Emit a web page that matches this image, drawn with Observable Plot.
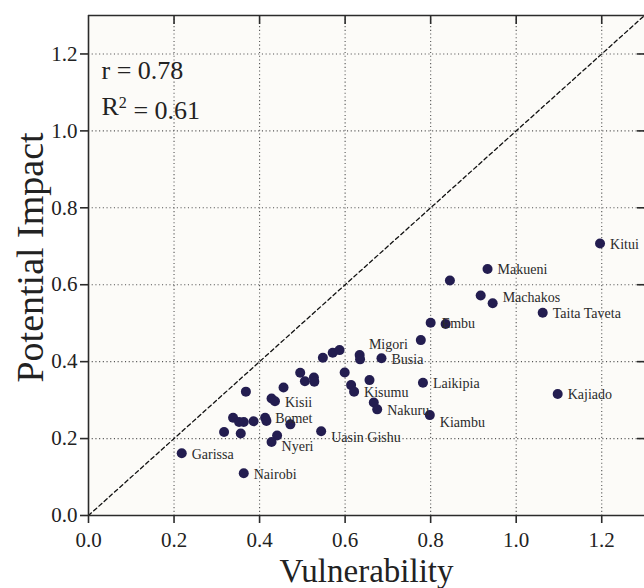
<!DOCTYPE html>
<html>
<head>
<meta charset="utf-8">
<script src="https://cdn.jsdelivr.net/npm/d3@7"></script>
<script src="https://cdn.jsdelivr.net/npm/@observablehq/plot@0.6"></script>
<style>
  html, body { margin: 0; padding: 0; background: #ffffff; }
  #chart svg { display: block; }
</style>
</head>
<body>
<div id="chart"></div>
<script>
// ---- data ----
const counties = [
  "Kitui", "Makueni", "", "", "Machakos", "Taita Taveta", "Kajiado", "Embu", "", "Migori",
  "Busia", "Laikipia", "Kiambu", "", "", "", "", "", "", "",
  "", "Kisumu", "", "Nakuru", "Uasin Gishu", "", "", "", "", "",
  "", "", "Kisii", "", "Bomet", "", "", "", "", "",
  "", "", "", "Nyeri", "Garissa", "Nairobi"
];
const vulnerability = [
  1.196, 0.933, 0.845, 0.917, 0.945, 1.062, 1.097, 0.800, 0.835, 0.777,
  0.685, 0.782, 0.798, 0.634, 0.635, 0.548, 0.571, 0.587, 0.599, 0.657,
  0.614, 0.621, 0.667, 0.675, 0.544, 0.495, 0.506, 0.527, 0.528, 0.456,
  0.368, 0.428, 0.436, 0.472, 0.413, 0.416, 0.338, 0.352, 0.363, 0.386,
  0.317, 0.356, 0.441, 0.428, 0.218, 0.363
];
const potentialImpact = [
  0.707, 0.641, 0.611, 0.572, 0.552, 0.527, 0.316, 0.501, 0.498, 0.456,
  0.409, 0.345, 0.261, 0.417, 0.406, 0.410, 0.423, 0.430, 0.372, 0.352,
  0.339, 0.322, 0.294, 0.276, 0.219, 0.371, 0.349, 0.359, 0.348, 0.333,
  0.322, 0.304, 0.297, 0.237, 0.254, 0.246, 0.254, 0.243, 0.243, 0.245,
  0.217, 0.213, 0.208, 0.191, 0.162, 0.110
];
const xTicks = [0, 0.2, 0.4, 0.6, 0.8, 1.0, 1.2];
const yTicks = [0, 0.2, 0.4, 0.6, 0.8, 1.0, 1.2];
const gridTicks = [0.2, 0.4, 0.6, 0.8, 1.0, 1.2];
const axisMax = 1.3;
const oneToOne = [{v: 0, i: 0}, {v: axisMax, i: axisMax}];
const statsText = ["r = 0.78", "R2 = 0.61"];
const xTitle = "Vulnerability";
const yTitle = "Potential Impact";

// ---- build table ----
const points = counties.map((name, k) => ({name, v: vulnerability[k], i: potentialImpact[k]}));

// label placement (style only)
const labelPlacement = {
  "Machakos": {dx: 10, dy: -6, anchor: "start"},
  "Kiambu": {dx: 10, dy: 7, anchor: "start"},
  "Uasin Gishu": {dx: 10, dy: 6, anchor: "start"},
  "Nyeri": {dx: 10, dy: 4, anchor: "start"},
  "Migori": {dx: -13, dy: 4, anchor: "end"},
  "Embu": {dx: 11, dy: 1, anchor: "start"}
};
const defaultPlacement = {dx: 10, dy: 1, anchor: "start"};

const labelMarks = points.filter(d => d.name).map(d => {
  const p = labelPlacement[d.name] || defaultPlacement;
  return Plot.text([d], {
    x: "v", y: "i", text: "name",
    dx: p.dx, dy: p.dy, textAnchor: p.anchor,
    fontSize: 14, fill: "#2a2a2a"
  });
});

const W = 644, H = 588, mL = 88, mR = 0, mT = 15, mB = 73;
const frameW = W - mL - mR, frameH = H - mT - mB;
const lineColor = "#2b2b2b";

const chart = Plot.plot({
  width: W, height: H,
  marginLeft: mL, marginRight: mR, marginTop: mT, marginBottom: mB,
  x: {domain: [0, axisMax]},
  y: {domain: [0, axisMax]},
  style: {fontFamily: "'Liberation Serif', 'Times New Roman', serif", background: "#ffffff", color: "#222"},
  marks: [
    Plot.frame({fill: "#fcfbf8", stroke: null}),
    Plot.gridX(gridTicks, {stroke: "#555", strokeOpacity: 1, strokeWidth: 1.1, strokeDasharray: "1.1,2.6"}),
    Plot.gridY(gridTicks, {stroke: "#555", strokeOpacity: 1, strokeWidth: 1.1, strokeDasharray: "1.1,2.6"}),
    Plot.line(oneToOne, {x: "v", y: "i", stroke: "#111", strokeWidth: 1.3, strokeDasharray: "4,3"}),
    // frame lines
    Plot.ruleX([0], {stroke: lineColor, strokeWidth: 1.6}),
    Plot.ruleY([0], {stroke: lineColor, strokeWidth: 1.6}),
    Plot.ruleY([axisMax], {stroke: lineColor, strokeWidth: 1.6}),
    // inward ticks on top and right
    Plot.ruleX(xTicks.slice(1), {stroke: lineColor, strokeWidth: 1.6, insetBottom: frameH - 9}),
    Plot.ruleY(yTicks.slice(1), {stroke: lineColor, strokeWidth: 1.6, insetLeft: frameW - 7}),
    // axes
    Plot.axisX({ticks: xTicks, tickFormat: d3.format(".1f"), tickSize: 8, tickPadding: 9, fontSize: 21, label: null, stroke: lineColor, strokeWidth: 1.6, color: "#222"}),
    Plot.axisY({ticks: yTicks, tickFormat: d3.format(".1f"), tickSize: 8, tickPadding: 3, fontSize: 21, label: null, stroke: lineColor, strokeWidth: 1.6, color: "#222"}),
    // points
    Plot.dot(points, {x: "v", y: "i", r: 5, fill: "#231d50", stroke: null}),
    ...labelMarks,
    // stats annotation
    Plot.text([statsText[0]], {frameAnchor: "top-left", dx: 13, dy: 55, textAnchor: "start", lineAnchor: "middle", fontSize: 26, fill: "#222"}),
    Plot.text([statsText[1]], {frameAnchor: "top-left", dx: 13, dy: 91, textAnchor: "start", lineAnchor: "middle", fontSize: 26, fill: "#222", className: "r2label"}),
    // axis titles
    Plot.text([xTitle], {frameAnchor: "bottom", dy: 56, lineAnchor: "middle", textAnchor: "middle", fontSize: 33, fill: "#222"}),
    Plot.text([yTitle], {frameAnchor: "left", dx: -58, dy: -8, rotate: -90, lineAnchor: "middle", textAnchor: "middle", fontSize: 38, fill: "#222"})
  ]
});

// superscript for R^2
d3.select(chart).selectAll(".r2label text").each(function() {
  const t = d3.select(this);
  t.text(null);
  t.append("tspan").text("R");
  t.append("tspan").attr("dy", "-0.42em").attr("font-size", "0.62em").text("2");
  t.append("tspan").attr("dy", "0.42em").text(" = 0.61");
});

document.getElementById("chart").appendChild(chart);
</script>
</body>
</html>
